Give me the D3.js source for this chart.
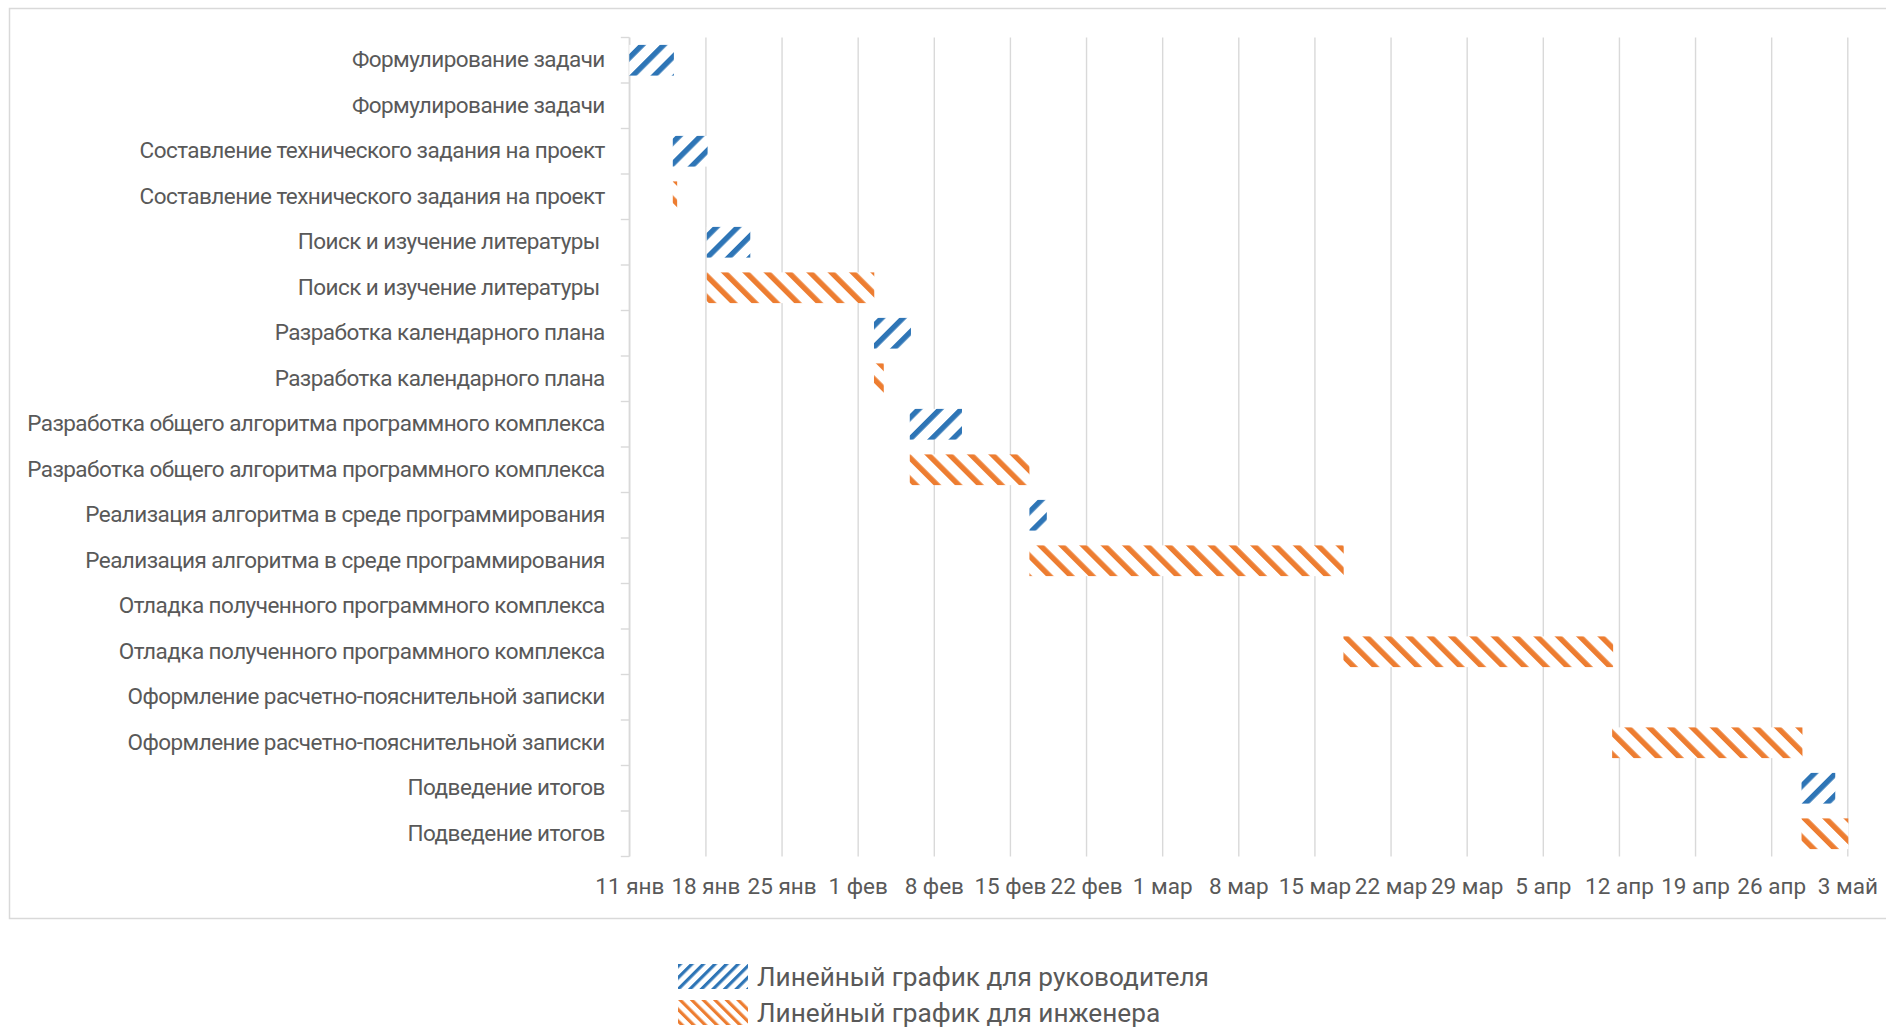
<!DOCTYPE html>
<html>
<head>
<meta charset="utf-8">
<script src="https://cdn.jsdelivr.net/npm/d3@7"></script>
<style>
  html, body { margin: 0; padding: 0; background: #fff; }
  svg { display: block; }
  text { font-family: Roboto, "Open Sans", sans-serif; fill: #595959; }
</style>
</head>
<body>
<svg id="chart" width="1886" height="1029"></svg>
<script>
// Project stages; each stage has one row for the supervisor and one for the engineer.
const tasks = [
  "Формулирование задачи",
  "Составление технического задания на проект",
  "Поиск и изучение литературы ",
  "Разработка календарного плана",
  "Разработка общего алгоритма программного комплекса",
  "Реализация алгоритма в среде программирования",
  "Отладка полученного программного комплекса",
  "Оформление расчетно-пояснительной записки",
  "Подведение итогов"
];

// Supervisor: start (UTC) and duration in days
const leaderStart = ["2021-01-11T00:00", "2021-01-15T00:00", "2021-01-18T03:00", "2021-02-02T12:00",
                     "2021-02-05T19:00", "2021-02-16T19:00", null, null, "2021-04-28T19:00"];
const leaderDays  = [4.1, 3.2, 4.0, 3.4, 4.8, 1.6, null, null, 3.1];

// Engineer: start (UTC) and duration in days
const engineerStart = [null, "2021-01-15T00:00", "2021-01-18T03:00", "2021-02-02T12:00",
                       "2021-02-05T19:00", "2021-02-16T19:00", "2021-03-17T16:00", "2021-04-11T09:00", "2021-04-28T19:00"];
const engineerDays  = [null, 0.4, 15.4, 0.9, 11.0, 28.9, 24.8, 17.5, 4.3];

const seriesNames = ["Линейный график для руководителя", "Линейный график для инженера"];
const seriesColors = ["#2E75B6", "#ED7D31"];
const monthAbbr = ["янв", "фев", "мар", "апр", "май", "июн", "июл", "авг", "сен", "окт", "ноя", "дек"];
const axisStart = "2021-01-11";
const axisEnd = "2021-05-03";

const svg = d3.select("#chart");
const plot = { left: 629.3, right: 1847.3, top: 37.5, bottom: 856.5 };
const gridColor = "#d9d9d9";
const fontSize = 22.5;
const fontFamily = "Roboto, 'Open Sans', sans-serif";

const parseTime = d3.utcParse("%Y-%m-%dT%H:%M");
const parseDay = d3.utcParse("%Y-%m-%d");
const DAY = 864e5;

const rows = tasks.flatMap((t, i) => [
  { label: t, series: 0, start: leaderStart[i], days: leaderDays[i] },
  { label: t, series: 1, start: engineerStart[i], days: engineerDays[i] }
]);

const x = d3.scaleUtc()
  .domain([parseDay(axisStart), parseDay(axisEnd)])
  .range([plot.left, plot.right]);

const y = d3.scaleBand()
  .domain(d3.range(rows.length))
  .range([plot.top, plot.bottom])
  .padding(0);
const barH = y.bandwidth() * 0.675;

// Hatch fills: "/" for the supervisor, "\" for the engineer
const defs = svg.append("defs");
function hatch(id, color, angle, period, thick) {
  const p = defs.append("pattern")
    .attr("id", id)
    .attr("patternUnits", "userSpaceOnUse")
    .attr("width", period).attr("height", period)
    .attr("patternTransform", `rotate(${angle})`);
  p.append("rect").attr("width", period).attr("height", period).attr("fill", "#fff");
  p.append("rect").attr("width", thick).attr("height", period).attr("fill", color);
}
hatch("hatch0", seriesColors[0], 45, 15.1, 5.4);
hatch("hatch1", seriesColors[1], -45, 15.1, 5.4);
hatch("legend0", seriesColors[0], 45, 8.2, 3.2);
hatch("legend1", seriesColors[1], -45, 8.2, 3.2);

// Chart frame
svg.append("rect")
  .attr("x", 9.5).attr("y", 8.5)
  .attr("width", 1900).attr("height", 910)
  .attr("fill", "none")
  .attr("stroke", gridColor)
  .attr("stroke-width", 1.5);

// Weekly date axis with vertical gridlines
const weekTicks = d3.utcMonday.range(x.domain()[0], d3.utcDay.offset(x.domain()[1], 1));
const xAxis = d3.axisBottom(x)
  .tickValues(weekTicks)
  .tickFormat(d => `${d.getUTCDate()} ${monthAbbr[d.getUTCMonth()]}`)
  .tickSize(-(plot.bottom - plot.top))
  .tickPadding(0);

const gx = svg.append("g")
  .attr("transform", `translate(0,${plot.bottom})`)
  .call(xAxis);
gx.select(".domain").remove();
gx.selectAll(".tick line").attr("stroke", gridColor).attr("stroke-width", 1.4);
gx.selectAll(".tick text")
  .attr("y", 37.5).attr("dy", 0)
  .attr("font-size", fontSize)
  .style("font-family", fontFamily)
  .attr("fill", "#595959");

// Category axis: labels centred in bands, ticks on band boundaries
const yAxis = d3.axisLeft(y)
  .tickFormat(i => rows[i].label)
  .tickSize(0)
  .tickPadding(24.5);
const gy = svg.append("g")
  .attr("transform", `translate(${plot.left},0)`)
  .call(yAxis);
gy.select(".domain").remove();
gy.selectAll(".tick text")
  .attr("font-size", fontSize)
  .attr("dy", "0.3em")
  .attr("xml:space", "preserve")
  .style("white-space", "pre")
  .style("letter-spacing", "-0.55px")
  .style("font-family", fontFamily)
  .attr("fill", "#595959");

const bounds = d3.range(rows.length + 1).map(i => plot.top + i * y.bandwidth());
svg.append("g").selectAll("line")
  .data(bounds)
  .join("line")
  .attr("x1", plot.left - 8.5).attr("x2", plot.left)
  .attr("y1", d => d).attr("y2", d => d)
  .attr("stroke", gridColor).attr("stroke-width", 1.4);
svg.append("line")
  .attr("x1", plot.left).attr("x2", plot.left)
  .attr("y1", plot.top).attr("y2", plot.bottom)
  .attr("stroke", gridColor).attr("stroke-width", 1.4);

// Bars
svg.append("g").selectAll("rect")
  .data(rows.map((r, i) => ({ ...r, i })).filter(r => r.start !== null))
  .join("rect")
  .attr("x", d => x(parseTime(d.start)))
  .attr("width", d => x(new Date(+parseTime(d.start) + d.days * DAY)) - x(parseTime(d.start)))
  .attr("y", d => y(d.i) + (y.bandwidth() - barH) / 2)
  .attr("height", barH)
  .attr("fill", d => `url(#hatch${d.series})`);

// Legend
const legend = svg.append("g").attr("transform", "translate(678,964)");
const items = legend.selectAll("g")
  .data(seriesNames)
  .join("g")
  .attr("transform", (d, i) => `translate(0,${i * 36})`);
items.append("rect")
  .attr("width", 70).attr("height", 25)
  .attr("fill", (d, i) => `url(#legend${i})`);
items.append("text")
  .attr("x", 79).attr("y", 21.5)
  .attr("font-size", 26.2)
  .text(d => d);
</script>
</body>
</html>
